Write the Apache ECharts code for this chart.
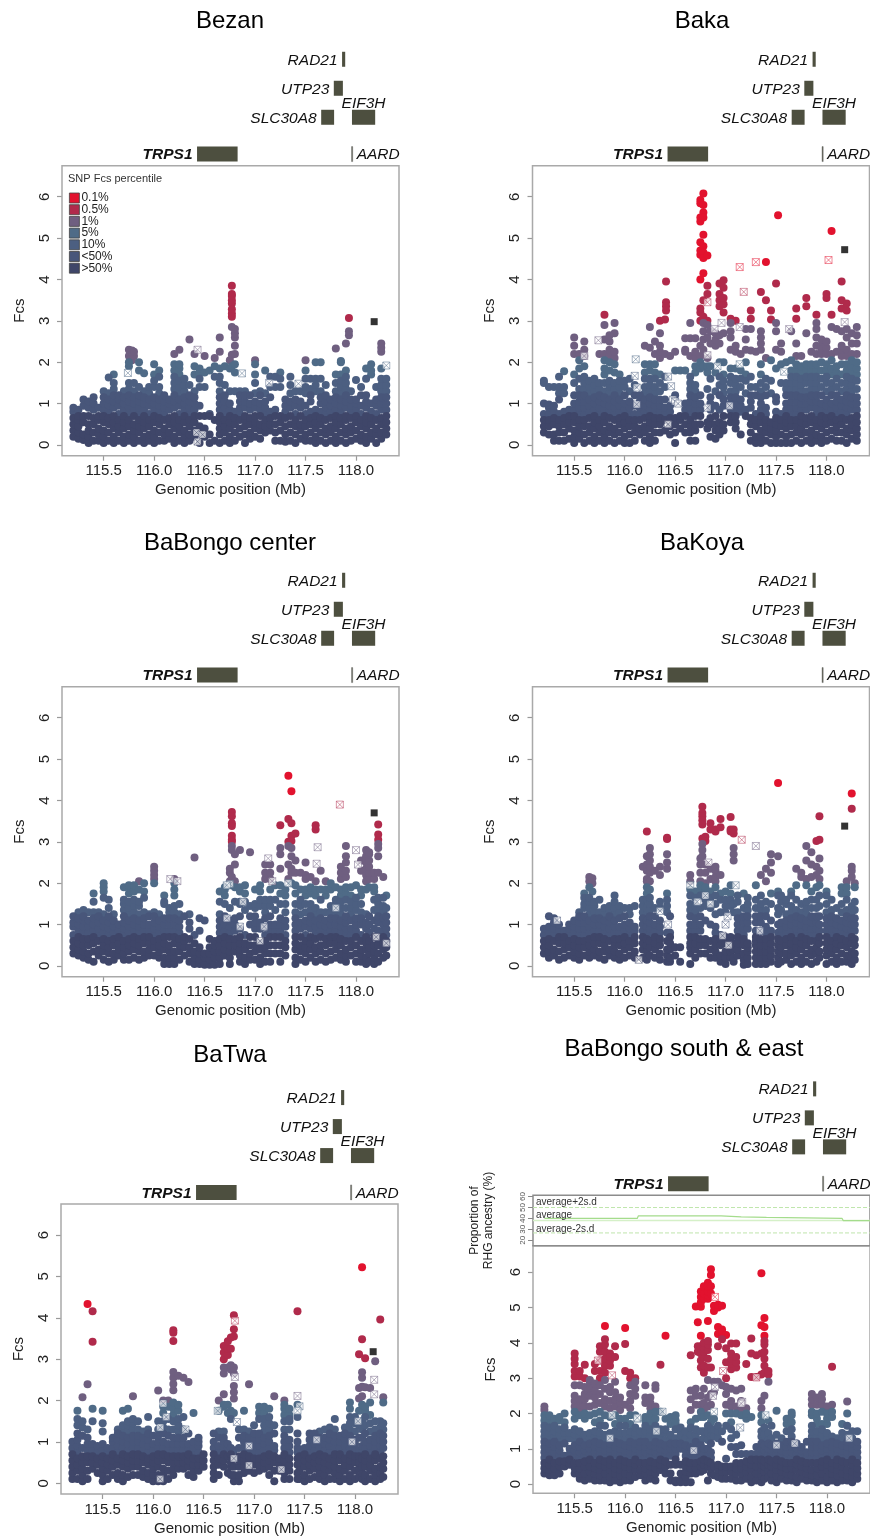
<!DOCTYPE html>
<html><head><meta charset="utf-8">
<style>html,body{margin:0;padding:0;background:#fff}#c{width:870px;height:1538px}</style>
<script src="https://cdn.jsdelivr.net/npm/echarts@6/dist/echarts.min.js"></script>
</head><body><div id="c"></div>
<script>
// Each row: genomic position (Mb), then the Fcs values read in that column.
const bezanCols=[
[115.2,.2,.35,.5,.65,.8,.9],[115.25,.15,.3,.45,.6,.7,.85],[115.3,.12,.25,.55,.7,.95,1.1],[115.35,.05,.2,.35,.5,.7,.9,1.05],[115.4,.1,.3,.5,.65,.85,1,1.15],[115.45,.1,.25,.4,.6,.7,.9],
[115.5,.05,.2,.35,.55,.7,.85,1,1.15,1.3],[115.55,.1,.3,.5,.65,.8,.95,1.1,1.25,1.63],[115.6,.05,.2,.4,.55,.7,.9,1.05,1.2,1.35,1.5,1.7],[115.65,.1,.3,.45,.6,.75,.95,1.1,1.2],[115.7,.05,.2,.4,.55,.7,.85,1,1.15,1.3],
[115.75,.1,.25,.45,.6,.75,.9,1.05,1.2,1.35,1.5,1.9,2,2.15,2.3],[115.78,2.28,2.15,2.05],[115.8,.05,.2,.35,.5,.7,.85,1,1.15,1.3,1.5,2.15,2.25],[115.85,.1,.3,.45,.6,.75,.9,1.05,1.2,1.4,2,1.8],[115.9,.05,.2,.4,.55,.7,.85,1,1.15,1.3,1.73],[115.95,.1,.25,.45,.6,.75,.95,1.1,1.25,1.4],
[116,.05,.2,.35,.55,.7,.85,1,1.15,1.4,1.55,1.7,1.95],[116.05,.1,.3,.5,.65,.8,.95,1.1,1.25,1.4,1.65,1.8],[116.1,.1,.25,.4,.6,.75,.9,1.05,1.2],[116.15,.15,.3,.5,.65,.85,1,1.1],[116.2,.05,.2,.4,.55,.7,.9,1.05,1.2,1.35,1.5,1.65,1.8,1.95,2.2],[116.25,.1,.3,.45,.6,.75,.95,1.1,1.25,1.4,1.55,1.7,1.85,1.95,2.3],[116.3,.05,.2,.35,.55,.7,.85,1,1.15,1.3,1.45,1.6],[116.35,.1,.25,.45,.6,.75,.9,1.05,1.2,1.45,2.55],[116.4,.2,.35,.55,.7,.85,1,1.15,1.3,1.7,1.9,2.2],[116.45,.05,.3,.45,.7,.95,1.4,1.6,1.75,1.85],[116.5,.2,.4,.7,1.4,1.75,2.15],[116.55,.05,.25,.7,.75,1.8],[116.6,.1,.6,1.65,1.9,2.1],
[116.65,.05,.25,.4,.55,.7,.85,1,1.15,1.3,1.5,1.65,1.85,2.25,2.6],[116.7,.1,.3,.45,.6,.75,.9,1.05,1.2,1.45,1.9],[116.75,.05,.2,.4,.55,.7,.85,1,1.3,1.85,2.05],
[116.77,3.85,3.65,3.6,3.5,3.42,3.28,3.18,3.1,2.85,2.18,1.9],[116.8,.1,.3,.5,.65,.8,1.3,1.75,1.95,2.2,2.4,2.6,2.7,2.8],[116.85,.2,.4,.6,.75,.9,1.05,1.2,1.3],[116.9,.05,.25,.45,.6,.7,.9,1.05,1.2,1.3],[116.95,.15,.3,.5,.65,.85,1,1.2],[117,.2,.4,.55,.7,.9,1.05,1.25,1.5,1.7,1.95,2.05],[117.05,.15,.35,.5,.7,.85,1,1.2,1.3],[117.1,.3,.45,.6,.75,.9,1.05,1.25,1.8],[117.15,.35,.5,.65,.8,1.15,1.4,1.65],[117.2,.1,.3,.5,.7,.85,1.4,1.65],[117.25,.1,.35,.55,.7,1.4,1.75,1.6],
[117.3,.08,.25,.45,.65,.8,.95,1.1],[117.35,.1,.3,.5,.7,.9,1.05,1.25,1.45,1.65],[117.4,.05,.25,.45,.6,.75,.95,1.1,1.3],[117.45,.15,.35,.5,.7,.9,1.05,1.3],[117.5,.1,.25,.45,.6,.75,.95,1.25,1.4,1.6,1.8,2.05],[117.55,.1,.3,.5,.65,.8,1.05,1.2,1.35,1.6],[117.6,.05,.2,.4,.55,.7,.85,1.3,1.45,1.6,2],[117.65,.1,.3,.5,.65,.8,1,1.15,1.3,1.6,2],[117.7,.05,.25,.4,.6,.75,.9,1.05,1.2,1.45],[117.75,.1,.3,.45,.65,.8,.95,1.1],[117.8,.05,.2,.4,.55,.7,.85,1,1.15,1.3,1.5,1.7,2.33],[117.85,.1,.3,.5,.65,.8,.95,1.1,1.25,1.4,1.55,1.7,2,2.03],[117.9,.05,.25,.4,.6,.7,.9,1.05,1.2,1.35,1.5,1.65,1.8,2.45],[117.93,2.65,2.75,3.07],[117.95,.1,.3,.45,.65,.8,.95,1.1,1.3],[118,.15,.35,.55,.7,.85,1,1.1,1.57],[118.05,.1,.25,.45,.6,.75,.95,1.2,1.4],[118.1,.05,.2,.4,.55,.7,.9,1.05,1.2,1.6,1.85],[118.15,.15,.3,.5,.65,.8,1,1.7,1.8,1.95],[118.2,.05,.25,.4,.6,.75,.95,1.1,1.4],[118.25,.15,.3,.5,.65,.85,1,1.15,1.3,1.45,1.6,1.85,2.25,2.35,2.45],[118.3,.25,.4,.55,.7,.85,1,1.15,1.3,1.45,1.6]];
const bezanHollowX=[115.74,116.43,116.43,116.87,117.14,117.43,118.3,116.42,116.48];
const bezanHollowY=[1.74,2.3,.08,1.73,1.5,1.48,1.92,.3,.25];
const bezanBlackY=[2.98];
const bezanBands=[.75,1.25,1.7,2.05,3.0,4.3];

const bakaCols=[
[115.2,.3,.45,.6,.75,1,1.5,1.55],[115.25,.25,.45,.6,.75,.9,.98,1.4],[115.3,.1,.25,.5,.65,.8,.95,1.4],[115.35,.1,.3,.45,.6,.75,1.1,1.25,1.4,1.65],[115.4,.1,.3,.5,.65,.8,1.25,1.4,1.78],[115.45,.15,.4,.55,.7,.85],[115.5,.05,.2,.35,.55,.7,.85,1,1.2,1.5,1.7,2.2,2.4,2.6],[115.55,.15,.3,.45,.6,.75,.9,1.05,1.2,1.35,1.6,1.85,2.05,2.2],
[115.6,.05,.25,.45,.6,.75,.9,1.05,1.2,1.35,1.5,1.65,1.9,2.15,2.3,2.5],[115.65,.1,.3,.45,.65,.8,.95,1.1,1.25,1.4,1.55],[115.7,.05,.2,.4,.55,.7,.85,1,1.15,1.3,1.45,1.6],[115.75,.1,.3,.45,.6,.75,.9,1.05,1.2,1.35,1.5,2.2],[115.8,.05,.2,.35,.55,.7,.85,1,1.15,1.3,1.5,1.7,1.85,2.05,2.2,2.55,2.9,3.15],[115.85,.1,.3,.45,.65,.8,.95,1.1,1.25,1.4,1.55,1.8,2,2.15,2.3,2.5,2.65],[115.9,.05,.25,.4,.6,.75,.9,1.05,1.2,1.35,1.5,1.75,1.95,2.1,2.25,2.7,2.95],[115.95,.1,.3,.5,.65,.8,.95,1.1,1.25,1.4,1.55,1.7],[116,.05,.2,.4,.55,.7,.85,1,1.2,1.4,1.55],[116.05,.05,.25,.45,.6,.75,.9,1.05,1.3,1.6],
[116.1,.1,.3,.45,.6,.75,.95,1.2,1.45],[116.15,.25,.4,.6,.75,.9,1.05,1.2],[116.2,.1,.3,.45,.65,.8,.95,1.1,1.25,1.4,1.6,1.75,1.95,2.4],[116.25,.05,.2,.4,.55,.7,.85,1,1.15,1.3,1.45,1.6,1.8,1.95,2.35,2.85],[116.3,.1,.3,.5,.65,.8,.95,1.1,1.25,1.4,1.6,1.75,1.95,2.2,2.5],[116.35,.3,.5,.65,.8,.95,1.1,1.3,1.5,1.7,2.1,2.25,2.4,2.7,3],[116.4,.35,.6,.75,.9,1.1,1.4,1.65,2.2,3.03],[116.41,3.95,3.45,3.35,3.25],[116.45,.25,.45,.65,.8,.95,2.15],[116.5,.05,.3,.5,.65,1.2,1.8,2.25],[116.55,.4,.6,.7,1.8],[116.6,.3,.5,.7,.85,1,2.3,2.58,2.25,1.8],[116.65,.1,.3,.45,.6,.75,.9,1.05,1.2,1.35,1.5,1.65,2.15,2.58,2.95],[116.7,.1,.35,.5,.7,.85,1,1.15,1.3,1.45,1.75,1.9,2.1,2.25,2.58],
[116.75,.5,.7,.85,1,1.2,1.85,2,2.15,2.4,3,3.2,3.3,4.0,4.6,4.7,4.9,5.4,5.5,5.92,5.84],[116.78,6.08,5.8,5.62,5.5,5.08,4.8,4.65,4.52,4.15,3.5,3.1,2.95,2.75,2.55,2.3,1.9],[116.82,.4,.55,1.35,1.75,1.9,2.1,2.6,2.9,3.0,3.65,3.85,4.58],[116.85,.2,.5,.65,.85,1,1.15,1.6,1.9,2.45,2.75],[116.9,.15,.35,.5,.7,.95,1.3,1.75,2.4,2.55,2.7],[116.94,.25,.4,.55,.85,1.2,1.45,1.65,2,2.45,2.65,3.35,3.5,3.65,3.9],[116.98,.35,.5,.7,.95,1.1,1.25,1.4,1.55,1.7,2,2.7,3.2,3.4,3.55,3.8,3.98],[117.05,.55,.7,.85,1,1.15,1.3,1.5,1.65,1.85,2.3,2.6,2.75,3.05,2.95],[117.1,.4,.55,.7,.85,1,1.15,1.3,1.45,1.6,1.85,2.25,2.4,3.0],[117.15,.25,.8,.95,1.1,1.4,1.6,1.8,2.2],[117.2,.7,.85,1.25,1.55,1.7,2,2.3,2.55,2.8],
[117.25,.1,.3,.5,.65,.9,1.05,1.2,1.4,1.65,2.28,2.8,3.05,3.25],[117.3,.05,.2,.45,.6,.75,1.2,1.4,2.25],[117.35,.05,.2,.35,.55,.7,.85,1,1.15,1.3,1.5,1.7,1.95,2.3,2.45,2.6,2.75,3.7],[117.4,.1,.3,.45,.6,.75,.9,1.2,1.4,1.6,2.1,3.5],[117.45,.05,.25,.4,.55,1.25,1.55,2.05,3.03,3.25],[117.5,.05,.2,.35,.5,.65,.8,1.05,1.15,1.85,2.3,2.75,2.95,3.9],[117.55,.05,.25,.45,.6,.75,1.5,1.95,2.25,2.45],[117.6,.05,.2,.4,.55,.7,.85,1,1.2,1.35,1.5,2],[117.65,.05,.25,.45,.6,.75,.9,1.05,1.2,1.35,1.5,1.65,1.8,2.05,2.75],[117.7,.1,.3,.45,.6,.75,.9,1.05,1.2,1.35,1.5,1.65,1.8,1.95,2.15,2.45,3.05,3.3],[117.75,.05,.25,.4,.55,.7,.85,1,1.15,1.3,1.45,1.6,1.75,1.9,2.15],[117.8,.1,.3,.5,.65,.85,1,1.15,1.3,1.5,1.65,1.8,1.95,2.7,3.35,3.55],[117.85,.05,.2,.35,.55,.7,.9,1.05,1.2,1.35,1.5,1.65,1.8,1.95,2.25],[117.9,.1,.25,.45,.6,.75,.9,1.05,1.2,1.35,1.5,1.65,1.8,1.95,2.2,2.4,2.6,2.8,2.95,3.15],
[117.95,.05,.2,.4,.55,.7,.85,1,1.2,1.4,1.6,1.8,2,2.2,2.4,2.55,2.3],[118,.1,.3,.5,.65,.8,.95,1.1,1.3,1.5,1.65,1.8,1.95,2.2,2.35,2.5,3.55,3.65],[118.05,.15,.35,.55,.7,.85,1,1.2,1.35,1.5,1.7,1.85,2.05,2.2,2.85,3.15,5.17],[118.1,.1,.3,.45,.6,.75,.9,1.05,1.2,1.4,1.6,1.75,1.9,2.25,2.8],[118.15,.1,.3,.5,.65,.8,.95,1.1,1.3,1.5,1.7,1.95,2.15,2.3,2.4,2.75,3.3,3.5,3.95],[118.2,.05,.25,.4,.6,.75,.9,1.05,1.2,1.35,1.5,1.65,1.8,1.95,2.15,2.3,2.6,2.8,3.25,3.42],[118.25,.15,.35,.5,.65,.85,1,1.15,1.3,1.45,1.6,1.75,1.9,2.05,2.2,2.45,2.7],[118.3,.1,.25,.4,.55,.7,.85,1,1.15,1.35,1.55,1.7,1.85,2,2.2,2.45,2.65,2.85],
[117.52,5.55],[117.4,4.42]];
const bakaHollowX=[115.74,115.6,116.11,116.1,116.12,116.43,116.46,116.48,116.5,116.53,116.43,116.82,116.82,116.89,116.96,116.92,116.82,117.04,117.14,117.14,117.18,117.3,117.63,117.58,118.02,118.18,116.12,117.14];
const bakaHollowY=[2.53,2.15,2.07,1.67,1.39,1.65,1.42,1.1,1.05,1.0,.5,3.45,2.17,2.8,2.95,1.9,.9,.95,4.3,2.85,3.7,4.42,2.8,1.77,4.47,2.97,.98,1.95];
const bakaBlackY=[4.72];
const bakaBands=[.75,1.25,1.7,2.1,3.0,4.0];

const centerCols=[
[115.2,.3,.45,.6,.75,.95,1.05,1.2],[115.25,.25,.4,.55,.7,.85,1,1.15,1.3],[115.3,.2,.35,.5,.65,.8,.95,1.1,1.2,1.35],[115.35,.15,.3,.5,.65,.8,.95,1.1,1.3],[115.4,.1,.35,.55,.7,.85,1,1.15,1.3,1.55,1.75],[115.45,.25,.4,.6,.75,.9,1.05,1.2,1.3],[115.5,.15,.35,.5,.65,.8,.95,1.1,1.25,1.65,1.8,1.9,2],[115.55,.1,.3,.45,.6,.75,.9,1.05,1.2,1.4,1.6],[115.6,.15,.3,.5,.65,.8,.95,1.1,1.25],[115.65,.25,.4,.55,.7,.85,1],[115.7,.15,.3,.45,.6,.75,.9,1.05,1.2,1.35,1.5,1.6,1.9],[115.75,.15,.35,.5,.65,.8,.95,1.1,1.25,1.4,1.55,1.75,1.9,1.95],[115.8,.2,.4,.55,.7,.85,1,1.15,1.3,1.45,1.6,1.8,1.95],[115.85,.15,.35,.5,.65,.8,.95,1.1,1.25,1.45,1.55,1.85,2.05],[115.9,.2,.35,.55,.7,.85,1,1.15,1.3,1.65,1.8,2],[115.95,.25,.4,.55,.7,.85,1,1.2,1.25],
[116,.25,.45,.6,.75,.9,1.05,1.2,1.3,2,2.1,2.2,2.3,2.4],[116.05,.2,.35,.5,.65,.8,.95,1.1,1.25],[116.1,.05,.2,.4,.55,.7,.85,1,1.15,1.5,1.55,1.7],[116.15,.05,.2,.35,.5,.7,.85,1,1.15,1.3,1.4],[116.2,.05,.2,.35,.55,.7,.85,1,1.15,1.3,1.45,1.7,1.85,2,2.1],[116.25,.15,.35,.5,.65,.8,.95,1.1,1.25,1.5],[116.3,.25,.45,.6,.7,1.2],[116.35,.1,.3,.45,.65,.9,1.05,1.25],[116.4,.05,.2,.35,.55,.75,2.62],[116.45,.05,.15,.3,.45,.85,1.15],[116.5,.03,.2,.3,1.1],[116.55,.03,.15,.3,.45,.65],[116.6,.03,.2,.35,.5,.6],[116.65,.05,.2,.35,.5,.65,.8,.95,1.1,1.25,1.55,1.8],[116.7,.25,.4,.55,.7,.85,1,1.2,1.5,1.7,1.85,1.9],[116.75,.05,.2,.35,.5,.65,.8,.95,1.1,1.4,1.95,2.25,2.35,2.05],
[116.77,3.72,3.62,3.45,3.38,3.15,3.05,3,2.9,2.8,2.15],[116.8,.35,.5,.65,.85,1,1.15,1.55,1.9,2.05,2.45,2.7],[116.85,.1,.25,.4,.55,.7,.9,1.2,1.5,1.55,1.8,1.9,2.8],[116.9,.05,.2,.4,.55,.75,1.35,1.55,1.75,1.95],[116.95,.15,.3,.5,.7,1,1.2,1.45,2.75],[117,.15,.35,.5,.7,.9,1.05,1.2,1.4,1.5,1.85],[117.05,.05,.2,.4,.55,.9,1.05,1.45,1.6,1.8,1.95],[117.1,.1,.3,.45,.6,.75,.95,1.15,1.3,1.45,1.6,2.1,2.25,2.45],[117.15,.1,.3,.5,.7,.85,1,1.2,1.45,1.6,1.85,2.1,2.25,2.45],[117.2,.3,.5,.7,.85,1,1.35,1.6,1.95],[117.25,.1,.3,.5,.7,.85,1,1.15,1.5,1.75,1.95,2.35,2.7,2.85,3.4],[117.3,.25,.45,.6,.75,.95,1.1,1.3,1.5,1.7,1.85],[117.33,4.6,3.55,3.0,2.9,2.45,2.1],[117.36,4.22,3.45,3.15,3.02,2.85,2.65,2.35,2.25,2],[117.4,.05,.2,.4,.55,.7,.85,1,1.15,1.3,1.5,1.75,1.95,2.25,2.55,3.2],[117.45,.15,.35,.5,.7,.9,1.05,1.25,1.45,1.6,1.85,2.25],[117.5,.1,.3,.45,.6,.75,.95,1.1,1.3,1.5,1.7,1.85,2.2,2.1,2.5],[117.55,.2,.4,.55,.7,.9,1.05,1.2,1.35,1.5,1.75,1.9,2.15],[117.6,.1,.3,.45,.65,.8,.95,1.1,1.25,1.4,1.7,1.85,2.05,3.3,3.4],[117.65,.15,.35,.5,.7,.85,1,1.15,1.3,1.6,1.85,2.3],[117.7,.1,.3,.5,.65,.8,.95,1.1,1.3,1.7,1.85,2.05],[117.75,.15,.35,.55,.7,.85,1,1.15,1.3,1.45,1.85,2.0],[117.8,.2,.4,.55,.7,.85,1,1.15,1.3,1.5,1.6,1.9],[117.85,.15,.3,.5,.65,.8,.95,1.1,1.25,1.4,1.55,1.7,1.85,2.1,2.25,2.4],[117.9,.1,.25,.4,.6,.75,.9,1.05,1.2,1.4,1.6,1.75,1.9,2.15,2.3,2.5,2.65,2.9],[117.95,.25,.45,.6,.75,.9,1.1,1.25,1.4,1.55,1.7,1.9],[118,.1,.3,.5,.7,.85,1,1.15,1.35,1.5,1.65,1.95],[118.05,.1,.25,.4,.6,.75,1,1.15,1.3,1.5,1.7,1.85,2.3,2.55],[118.1,.05,.2,.4,.55,.7,.9,1.05,1.25,1.85,2.05,2.2,2.35,2.5,2.65,2.8],[118.13,.1,.3,.45,.6,.8,1,1.2,1.9,2.1,2.25,2.4,2.55,2.7,2.75],[118.18,.05,.2,.35,.5,.7,.9,1.1,1.35,1.6,1.8,1.9,2.1,2.25],[118.22,.1,.3,.5,.65,.85,1.05,1.2,1.35,1.5,1.65,2.25,2.65,2.85,2.95,3.05,3.18,3.42],[118.27,.2,.4,.55,.7,.85,1,1.15,1.3,1.45,1.65,2.15],[118.3,.25,.45,.6,.75,.9,1.05,1.2,1.4,1.7]];
const centerHollowX=[116.16,116.23,116.88,116.75,116.72,117.13,117.17,117.33,117.84,117.62,117.61,118.0,117.8,118.02,118.3,116.85,117.05,117.09,116.72,118.2];
const centerHollowY=[2.1,2.05,1.55,1.98,1.95,2.6,2.05,2.0,3.9,2.87,2.47,2.8,1.4,2.45,.55,.95,.6,.95,1.15,.7];
const centerBlackY=[3.7];
const centerBands=[.75,1.25,1.7,2.05,3.0,4.0];

const koyaCols=[
[115.2,.3,.45,.6,.75,.9],[115.25,.2,.35,.5,.65,.8,.95,1.2],[115.3,.25,.4,.6,.75,.9,1.05,1.15],[115.35,.15,.35,.55,.7,.85,1],[115.4,.2,.4,.55,.7,.85],[115.45,.25,.45,.6,.75,.9,1.0],[115.5,.2,.35,.5,.65,.8,.95,1.1],[115.55,.15,.3,.45,.6,.75,.9,1.05,1.2,1.3],[115.6,.25,.45,.6,.75,.9,1.05,1.2,1.4,1.5,1.65,1.75],[115.65,.2,.35,.5,.65,.8,.95,1.1,1.25,1.4,1.55,1.65,1.9,2.05,2.15],[115.68,2.0,1.8,2.12],[115.7,.25,.4,.55,.7,.85,1,1.15,1.3,1.45,1.55],[115.75,.2,.35,.55,.7,.85,1,1.15,1.3,1.6],[115.8,.15,.35,.5,.65,.8,.95,1.1,1.25,1.4],[115.85,.25,.4,.6,.75,.9,1.05,1.2,1.35,1.45],[115.9,.2,.35,.5,.65,.8,.95,1.1,1.25,1.4,1.55,1.7],[115.95,.15,.3,.5,.65,.8,.95,1.15,1.3,1.45],[116,.2,.4,.55,.7,.85,1,1.2,1.4],[116.05,.25,.45,.6,.75,.9,1.05,1.25,1.4],[116.1,.2,.35,.55,.7,.85,.95,1.45],
[116.18,.2,.4,.55,.7,.85,1,1.15,1.3,1.45,1.6,2.4],[116.22,.15,.35,.5,.65,.8,.95,1.1,1.25,1.4,1.6,1.75,1.9,2.05,2.1,2.3,2.45,2.65,3.25],[116.25,.25,.45,.6,.75,.9,1.05,1.2,1.35,1.5,1.65,1.85,2.05,2.25,2.4,2.55,2.7,2.85],[116.3,.2,.4,.55,.7,.85,1,1.2,1.4,2.3],[116.35,.15,.3,.5,.65,.8,.95,1.1,1.4,1.55,2.2,2.4],[116.42,.1,.25,.4,.6,.8,1.3,1.45,1.6,1.75,2.35,2.5,2.7,3.07,3.1],[116.45,.1,.2,.4,.55,.7,.8,1.2],[116.5,.25,.45],[116.55,.1,.45],[116.65,.05,.3,.45,.55,.7,.85,1.0,1.2,1.35,1.5,1.7,1.85,2.2,2.05],[116.7,.2,.4,.55,.7,.85,1,1.15,1.3,1.45,1.65,1.8],[116.75,.3,.5,.65,.85,1,1.2,1.4,1.7,1.85,1.95,2.05,2.25,2.45,2.6],[116.77,3.85,3.7,3.62,3.52,3.42,3.08,2.95,2.8,2.65],[116.8,.3,.5,.65,1.1,1.45,1.6,1.8,1.9,2,2.25,2.45,3.12,3.02],[116.85,.2,.4,.6,1.0,1.4,1.65,1.8,2.1,2.35,3.3,3.45],[116.9,.2,.35,.5,.65,.8,.95,1.25,1.5,1.7,1.9,2.05,2.15,2.3,2.4,3.3,3.25],[116.95,.1,.25,.5,.65,.75,1.3,1.6,1.75,2.2,3.55,3.35],[117,.05,.2,.35,.55,.7,1.3,1.45,1.6,1.8],[117.05,.2,.35,.5,.65,.7,1.45,1.6,1.75,1.95,3.3,3.6,3.25],[117.08,.1,.2,.4,.55,1.3,1.5,2.55,2.7,2.85,3.2,3.3],[117.12,.25,.4,.55,.7,.85,1.0,1.15,1.3,1.55,1.7],
[117.18,.03,.15,.3,.5,.65,.75,.9,1.05,1.2,1.4,1.75],[117.22,.05,.2,.35,.45,.55,.9,1.05,1.2,1.35,1.5,1.65],[117.3,.05,.2,.35,.5,.6,.7,.85,1.05,1.2,1.4,1.6,1.95],[117.35,.05,.2,.35,.5,.65,.85,1.05,1.2,1.35,1.5,1.7,2.2],[117.4,.05,.2,.35,.5,.65,.8,.95,1.2,1.35,1.55,2.05,2.35],[117.45,.1,.25,.4,.55,.7,.85,1.1,1.5,1.75,2.25,2.5,2.7],[117.52,.05,.2,.35,.5,.65,.8,1,1.25,1.4,1.7,1.8,2.65,4.42],[117.55,.1,.3,.45,.6,.75,.9,1.05,1.35,1.55,1.7],[117.6,.15,.3,.5,.65,.8,.95,1.1,1.25,1.5,1.6],[117.65,.05,.25,.4,.55,.7,.85,1,1.15,1.3,1.45,1.7,1.8],[117.7,.1,.3,.45,.6,.75,.9,1.05,1.2,1.35,1.6,1.95,2.35],[117.75,.05,.2,.4,.55,.7,.85,1,1.15,1.3,1.5,2.15,2.25],[117.8,.1,.3,.5,.65,.8,.95,1.1,1.25,1.4,1.55,1.95,2.1,2.55,2.9],[117.85,.05,.25,.4,.6,.75,.9,1.05,1.2,1.4,1.6,1.8,2.15,2.45,2.75],[117.9,.1,.3,.45,.6,.75,.9,1.05,1.2,1.4,1.6,1.9,2.2,2.4,3.02],[117.93,.2,.35,.55,.7,.85,1,1.2,1.45,1.7,1.95,2.1,2.3,2.6,3.05,3.62],[118,.05,.25,.4,.55,.7,.85,1,1.15,1.3,1.5,1.7,1.8],[118.05,.1,.3,.45,.6,.75,.9,1.05,1.2,1.35,1.6],[118.1,.05,.2,.4,.55,.7,.85,1,1.15,1.4],[118.15,.1,.3,.5,.65,.8,.95,1.1,1.3,1.5,1.9,1.75],[118.2,.1,.25,.45,.6,.75,.9,1.05,1.2,1.35,1.6,1.75,1.9,2.05],[118.25,.05,.2,.35,.55,.7,.85,1,1.15,1.3,1.45,2.15,2.3,2.4,3.8,4.17],[118.28,.15,.3,.5,.65,.85,1,1.15,1.35,1.55,1.9,2.0]];
const koyaHollowX=[115.33,116.35,116.43,116.14,116.65,116.8,116.83,116.97,117.03,117.1,117.3,117.16,117.34,117.0,116.72,117.02,116.85];
const koyaHollowY=[1.1,1.33,1.0,.15,1.95,1.7,2.5,.73,.5,1.95,2.9,3.05,.85,1.0,1.55,1.2,1.5];
const koyaBlackY=[3.38];
const koyaBands=[.75,1.25,1.75,2.0,3.0,4.0];

const twaCols=[
[115.2,.1,.25,.4,.55,.7,.85,1.0],[115.25,.1,.3,.45,.6,.75,.9,1.05,1.2,1.4,1.55,1.75],[115.3,.05,.2,.35,.5,.65,.85,1.15,1.35,1.5,2.08],[115.35,.1,.3,.5,.65,.8,.95,1.1,1.3,2.39,4.33],[115.4,.35,.5,.65,.8,.95,1.5,1.8,3.42,4.16],[115.45,.25,.45,.6,.75,.9],[115.5,.05,.2,.35,.5,.65,.8,.95,1.25,1.45,1.75],[115.55,.1,.3,.45,.6,.75,.85],[115.6,.2,.4,.55,.7,.85,1.0,1.1],[115.65,.1,.25,.45,.6,.75,.9,1.05,1.2,1.3],[115.7,.05,.2,.4,.55,.7,.85,1.0,1.15,1.3,1.4,1.75],[115.75,.15,.35,.5,.65,.8,.95,1.1,1.25,1.4,1.5,1.8],[115.8,.2,.4,.55,.7,.85,1,1.15,1.3,1.45,1.55,2.1],[115.85,.2,.4,.55,.7,.85,1,1.15,1.3,1.5],[115.9,.15,.3,.5,.65,.8,.95,1.1,1.25],[115.95,.1,.25,.45,.6,.75,.9,1.05,1.2,1.3,1.6],[116,.05,.2,.35,.5,.65,.8,.95,1.15],[116.05,.05,.2,.4,.55,.7,.85,1,1.15,1.3,1.5,2.24],[116.1,.05,.2,.35,.55,.7,.85,1,1.2,1.35,1.5,1.7,1.85,2.0],[116.15,.1,.3,.5,.65,.8,.95,1.15,1.3,1.55,1.85,2.0],
[116.2,.2,.35,.5,.65,.8,.95,1.1,1.3,1.5,1.65,1.8,1.95,2.25,2.4,2.55,2.69,3.44,3.64,3.7],[116.25,.35,.5,.65,.8,.95,1.1,1.25,1.4,1.55,1.75,1.9,2.6],[116.3,.35,.5,.65,.8,.95,1.1,1.3,1.6,2.55],[116.35,.2,.4,.55,.7,.85,.95,1.2,2.45],[116.4,.15,.3,.45,.6,.75,.85,1.0,1.7],[116.45,.3,.45,.6,.75,.9,1.0,1.1],[116.5,.4,.55,.7],[116.6,.1,.25,.4,.55,.7,.85,1,1.2],[116.65,.2,.45,.6,.75,.9,1.1,1.25,1.75,2.0],[116.7,.4,.55,.7,.85,1,1.1,1.25,1.85,1.9,2.15,2.65,2.8,3,3.16,3.32],[116.74,.25,.65,.85,.95,1.7,1.9,2.8,3.1,3.25,3.43],[116.77,.2,.4,.5,.7,.85,1.55,1.75,2.75,2.85,3.25,3.52],[116.8,.05,.2,.4,.6,.8,1.7,2.05,2.2,2.35,2.65,2.8,3.55,3.72,4.06],[116.85,.05,.2,.4,.55,.65,.85,1.1,1.3],[116.9,.25,.4,.55,.7,.85,1,1.15,1.3,1.75],[116.95,.3,.5,.65,.8,.95,1.1,1.25,2.39],[117,.25,.45,.6,.75,.9,1.05,1.2,1.4],[117.05,.3,.45,.6,.75,.9,1.05,1.2,1.55,1.7,1.85],[117.1,.35,.5,.65,.8,.95,1.1,1.25,1.4,1.55,1.7,1.85],[117.15,.2,.4,.55,.7,.85,1,1.15,1.3,1.45,1.6,1.8],[117.2,.05,.3,.5,.65,.8,.9,1.2,1.4,2.1],[117.25,.3,.45,.6],[117.3,.1,.25,.4,.55,.7,.85,1,1.15,1.3,1.5,1.65,1.8,1.9,2],[117.35,.1,.3,.45,.6,.75,.9,1.05,1.3,1.5,1.65,1.8,1.55],[117.43,.1,.25,.45,.6,.75,.85,1.0,1.2,1.6,1.9,4.16],[117.45,.1,.3,.5,.65,.8],
[117.5,.05,.2,.4,.55,.7,.85],[117.55,.1,.3,.45,.6,.75,.9,1.05,1.2],[117.6,.15,.35,.5,.65,.8,.95,1.1,1.2],[117.65,.1,.25,.4,.55,.7,.85,1,1.1,1.25],[117.7,.05,.2,.35,.5,.65,.8,.95,1.1,1.3],[117.75,.1,.3,.45,.6,.75,.9,1.05,1.2,1.35],[117.8,.1,.25,.4,.55,.7,.85,1,1.15,1.3,1.55],[117.85,.05,.2,.35,.55,.7,.85,1,1.15],[117.9,.1,.3,.45,.6,.75,.9,1.05,1.2,1.35],[117.95,.05,.2,.4,.55,.7,.85,1,1.15,1.3,1.45,1.6,1.8,1.95],[118,.1,.3,.5,.65,.8,.95,1.05,1.25,1.45,1.6],[118.04,.15,.35,.5,.65,.8,1.1,1.4,1.75,2.05,2.3,3.12],[118.07,.1,.25,.4,.6,.75,.9,1.1,1.3,1.5,1.9,2.1,2.33,2.55,2.68,3.48,5.22],[118.1,.05,.2,.4,.55,.7,.85,1,1.2,1.4,1.6,1.75,1.85,2.32,3.02],[118.15,.1,.3,.45,.6,.75,.9,1.05,1.25,1.45,1.65,1.95,2.3],[118.2,.05,.2,.35,.55,.7,.85,1,1.15,1.3,1.5,2.95],[118.25,.1,.25,.4,.6,.75,.9,1.05,1.2,1.35,1.5,3.96],[118.28,.15,.35,.5,.65,.85,1,1.15,1.3,1.45,1.95,2.08]];
const twaHollowX=[116.1,116.07,116.13,116.81,116.81,116.83,117.43,117.45,117.43,116.64,116.8,116.32,116.95,117.27,117.62,118.03,118.19,118.19,117.97,116.95,116.07];
const twaHollowY=[1.93,1.35,1.6,3.93,2.57,1.48,2.11,1.86,1.75,1.75,.6,1.3,.43,.33,1.05,1.5,2.5,2.15,1.0,.9,.1];
const twaBlackY=[3.18];
const twaBands=[.72,1.25,1.65,2.0,3.0,4.2];

const southCols=[
[115.2,.3,.45,.6,.75,.9,1.05,1.2,1.35,1.5,1.65,1.8,1.95,2.1,2.2],[115.25,.25,.4,.55,.7,.85,1,1.15,1.3,1.45,1.6,1.75,1.95],[115.3,.25,.45,.6,.75,.9,1.05,1.2,1.35,1.5,1.65,1.85],[115.35,.3,.5,.65,.8,.95,1.1,1.25,1.4,1.55,1.8,1.9],[115.4,.5,.65,.8,1.15,1.3,1.45,1.6,1.75,2],[115.45,.55,.7,.85,1.0,1.3,1.45],[115.5,.3,.45,.6,.8,.95,1.1,1.25,1.4,1.55,1.85,2.05,2.2,2.35,2.5,2.8,3.05,3.2,3.4,3.55,3.7],[115.55,.15,.3,.45,.6,.75,.9,1.05,1.2,1.35,1.5,1.95,2.1,2.25,2.4,2.8,3.05,3.2],[115.6,.1,.3,.5,.65,.8,.95,1.1,1.25,1.4,1.85,2,2.2,2.4,2.55,2.75,3,3.38],[115.65,.15,.35,.5,.7,.85,1,1.15,1.3,1.45,1.95,2.2,2.5,2.7,2.9,2.95],[115.7,.1,.3,.45,.6,.75,.9,1.05,1.2,1.35,1.5,1.75,2,2.25,2.45,2.65,2.85,3.2,3.4],[115.75,.1,.25,.4,.55,.7,.85,1,1.15,1.3,1.45,1.65,1.8,2.05,2.3,2.55,2.8,3.0,3.2,3.5,3.75,3.9],[115.8,.1,.3,.5,.65,.8,.95,1.1,1.25,1.4,1.65,1.95,2.2,2.4,2.7,2.95,3.15,3.35,3.55,3.75,3.95,4.1,4.48],[115.85,.05,.2,.4,.55,.7,.85,1,1.15,1.3,1.45,1.9,2.15,2.35,2.6,2.75,3.35,3.5,3.7,3.6],[115.9,.1,.3,.45,.6,.75,.9,1.05,1.2,1.35,1.5,1.7,1.95,2.2,2.4,2.6,2.9,3.6,3.9],[115.95,.05,.25,.4,.55,.7,.85,1,1.15,1.3,1.45,1.65,1.85,2.1,2.3,2.45],[116,.1,.3,.5,.65,.8,.95,1.1,1.25,1.45,1.65,1.85,2.25,3.2,3.97,4.42],[116.05,.1,.25,.45,.6,.75,.9,1.05,1.2,1.35,1.5,1.7,1.95,2.15,2.35,2.55,2.8,3.0,3.15],[116.1,.2,.4,.55,.7,.85,1,1.15,1.3,1.45,1.6,1.95,2.5,2.7,2.9,3],[116.15,.25,.4,.6,.75,.9,1.05,1.2,1.35,1.5],
[116.2,.1,.3,.45,.6,.75,.9,1.05,1.2,1.35,1.5,1.65,1.8,1.9,2.3,2.45,2.8],[116.25,.15,.35,.5,.65,.8,.95,1.1,1.25,1.4,1.55,1.7,1.85,2,2.15,2.3,2.45],[116.3,.1,.3,.45,.6,.75,.9,1.05,1.2,1.35,1.5,1.65,1.85,2.05,2.2,2.7,2.8],[116.35,.4,.55,.7,.85,1,1.15,1.3,1.45,1.55,2.05,3.38],[116.4,.3,.5,.65,.8,.95,1.1,1.25,1.45,1.55,1.85,4.2],[116.45,.1,.3,.55,.8,1,1.15,1.3,1.4,1.7,1.9],[116.5,.05,.1,.55,.7,.85,1,1.15,1.3,1.55,1.7,1.8,1.95],[116.55,.05,.1,.3,.55,1,1.15,1.3,1.4,1.6],[116.6,.05,.2,.35,.5,.65,.8,.95,1.1,1.3,1.5],[116.65,.05,.3,.45,.6,.75,.9,1.05,1.25,1.4,1.6,1.75,2.1,2.4,2.65,3.65],[116.7,.3,.45,.6,.75,.9,1.05,1.2,1.4,1.55,1.85,2.25,2.5,2.7,5.03],[116.72,3.9,4.58,3.75],[116.75,.35,.5,.65,.8,.95,1.1,1.25,1.5,1.9,2.05,2.25,2.5,3.3,3.5,3.7,3.9,4.2,5.02,5.15,5.3,5.45],[116.78,.4,.55,.7,.85,1,1.3,1.5,1.9,2.1,2.3,2.7,3.15,3.35,3.6,3.75,3.85,4.0,5.25,5.4,5.6],[116.82,.1,.5,.65,.8,1,1.25,1.45,1.65,1.95,2.2,2.45,2.95,3.3,3.55,3.8,3.95,4.05,4.62,5.25,5.35,5.45,5.7,5.6],[116.85,.3,.45,.6,.75,.9,1.15,1.35,1.55,1.75,2.25,2.55,3.3,5.4,5.6,5.92,6.08],[116.88,.25,.5,1.35,1.55,1.85,2.6,2.9,4.9,5.05],[116.92,.2,.4,.55,1.3,1.5,1.65,2.9,3.9,4.25,4.45,5,5.08],[116.96,.15,.35,.5,1.2,1.5,2.8,4.1,4.25,4.38,4.3,5.05],[117,.15,.35,.5,.72,1.65,2,2.25,2.55,2.75,3,3.85,3.45,4.22],[117.05,.15,.35,.5,1.05,1.3,1.55,1.75,2,2.2,2.35,2.7,3.25,3.4,3.55,3.7,3.98],[117.1,.1,.3,.45,.6,.85,1.05,1.4,2,2.2,2.65,3.3,3.45,3.6,3.98],[117.15,.1,.3,.45,.6,.85,1.1,1.95,2.15,2.35,2.7],[117.2,.15,.35,.5,.65,.85,1.85,2,2.15,3.4],[117.25,.05,.2,.4,.55,.7,.85,1.9,3.03,3.7,4.12],[117.3,.1,.3,.5,.7,.85,1.05,3.03,3.65],[117.35,.05,.25,.4,.55,.7,.85,1,1.15,1.35,1.5,1.75,1.95,2.15,2.35,3.1,3.7,4.5,5.97],[117.38,.15,.35,.5,.65,.8,.95,1.1,1.25,1.4,1.6,2.5,3.15,3.35,3.55,3.75,3.95,4.2,4.05,4.45,4.7],[117.42,.2,.4,.55,.7,.85,1,1.15,1.25,1.45,1.8,2.9,3.1,3.2],
[117.45,.1,.3,.5,.65,.8,.95,1.1,1.3,1.65],[117.5,.05,.25,.4,.55,.7,.85,1,1.15,1.4,2.08],[117.55,.15,.35,.5,.65,.8,.95,1.1,1.3],[117.6,.1,.3,.45,.6,.75,.9,1.05,1.2,1.5,1.7,1.85],[117.65,.1,.25,.45,.6,.75,.9,1.05,1.2,1.35,1.55,1.75,1.95,2.03],[117.7,.05,.2,.4,.55,.7,.85,1,1.15],[117.75,.15,.35,.5,.65,.8,.95,1.05],[117.8,.1,.3,.45,.6,.75,.9,1.2],[117.85,.1,.25,.4,.6,.75,.9,1.05,1.2,1.35,1.5,1.65,1.95,2.05,2.25,2.4,2.55],[117.9,.05,.25,.45,.6,.75,.9,1.05,1.2,1.35,1.5,1.7,1.85,2,2.25,2.45],[117.95,.1,.3,.5,.65,.8,.95,1.1,1.25,1.4,1.55,1.7,2.05,2.25,2.55,2.4],[118,.05,.2,.4,.55,.7,.85,1,1.15,1.3,1.45,1.7,1.85,2,2.2],[118.05,.1,.3,.45,.6,.75,.9,1.05,1.2,1.35,1.9,2.05,2.25,3.32],[118.1,.05,.25,.4,.55,.7,.85,1,1.15,1.3],[118.15,.1,.3,.5,.65,.8,.95,1.1,1.25,1.45,1.7],[118.2,.1,.25,.4,.6,.75,.9,1.05,1.2,1.4,1.65,2,2.34],[118.25,.05,.2,.35,.55,.7,.85,1,1.15,1.3,1.5],[118.3,.15,.3,.45,.6,.75,.9,1.05,1.2,1.5]];
const southHollowX=[115.73,115.87,115.87,116.12,116.12,116.37,116.31,116.89,116.89,116.87,116.97,117.16,117.15,117.3,117.14,117.39,117.5,117.68,118.22,116.68,116.88,115.85];
const southHollowY=[3.5,3.08,1.95,1.85,1.88,2.05,1.5,2.75,5.3,2.5,3.2,2.33,2.28,3.02,1.6,1.95,1.1,1.15,1.3,.95,2.05,1.3];
const southBlackY=[];
const southBands=[.72,1.25,1.7,2.1,3.0,4.15];

const panelTitles=["Bezan","Baka","BaBongo center","BaKoya","BaTwa","BaBongo south & east"];
const percentileNames=["0.1%","0.5%","1%","5%","10%","<50%",">50%"];
const percentileColors=["#e2122e","#b02a4b","#6f5f80","#4f6b87","#4c5f81","#48567a","#3f4669"];
const genePositionStart=[116.425,117.956,117.655,117.96,117.78,117.862];
const genePositionEnd=[116.827,117.967,117.783,118.19,117.87,117.893];
const geneTrack=[0,0,1.27,1.27,2.27,3.27];
const geneNames=["TRPS1","AARD","SLC30A8","EIF3H","UTP23","RAD21"];
const geneLabelSide=["left","right","left","top","left","left"];
const xTickValues=[115.5,116,116.5,117,117.5,118];
const yTickValues=[0,1,2,3,4,5,6];
const blackMarkerX=118.18;
const ancestryTicks=[20,30,40,50,60];
const ancestryX=[115.2,116.12,116.13,116.95,116.96,117.15,117.16,117.4,117.41,118.15,118.16,118.43];
const ancestryY=[40,40,42.3,42.3,41.5,41.5,40.9,40.9,40,40,38,38];
const ancestryAverage=38;
const ancestryUpper=50;
const ancestryLower=26.7;
const ancestryLabels=["average+2s.d","average","average-2s.d"];

const FONT="'Liberation Sans',Arial,sans-serif";
const panelData=[
 {cols:bezanCols,hx:bezanHollowX,hy:bezanHollowY,black:bezanBlackY,bands:bezanBands},
 {cols:bakaCols,hx:bakaHollowX,hy:bakaHollowY,black:bakaBlackY,bands:bakaBands},
 {cols:centerCols,hx:centerHollowX,hy:centerHollowY,black:centerBlackY,bands:centerBands},
 {cols:koyaCols,hx:koyaHollowX,hy:koyaHollowY,black:koyaBlackY,bands:koyaBands},
 {cols:twaCols,hx:twaHollowX,hy:twaHollowY,black:twaBlackY,bands:twaBands},
 {cols:southCols,hx:southHollowX,hy:southHollowY,black:southBlackY,bands:southBands}];
const frames=[
 {l:62,t:165.7,b:455.7,g:165.7,tx:230,ty:21},
 {l:532.5,t:165.7,b:455.7,g:165.7,tx:702,ty:21},
 {l:62,t:686.7,b:976.7,g:686.7,tx:230,ty:543},
 {l:532.5,t:686.7,b:976.7,g:686.7,tx:702,ty:543},
 {l:61,t:1204,b:1494,g:1204,tx:230,ty:1055},
 {l:533,t:1245.7,b:1493.3,g:1195.3,tx:684,ty:1049}];
const W=337, XMIN=115.087, XMAX=118.426, YMIN=-0.26, YMAX=6.75;
const opt={animation:false,textStyle:{fontFamily:FONT},title:[],grid:[],xAxis:[],yAxis:[],series:[],graphic:[],
 legend:{left:69,top:192,orient:'vertical',data:percentileNames.map(n=>({name:n,icon:'rect'})),itemWidth:10,itemHeight:10,itemGap:-0.3,padding:0,selectedMode:false,
  itemStyle:{borderColor:'#444',borderWidth:.8},textStyle:{fontSize:12,color:'#222',fontFamily:FONT,padding:[0,0,0,-3]}}};
const NICE=v=>v.toFixed(1);
function addAxes(f,o){
 const ix=opt.grid.length;
 opt.grid.push({left:f.l,width:W,top:o.top,height:o.height,show:o.frame,borderColor:o.borderColor||'#a9a9a9',borderWidth:1.5,backgroundColor:'transparent',z:o.z||2});
 return ix;
}
panelData.forEach((p,i)=>{
 const f=frames[i];
 opt.title.push({text:panelTitles[i],left:f.tx,top:f.ty,padding:0,textAlign:'center',textVerticalAlign:'middle',textStyle:{fontSize:24,fontWeight:'normal',color:'#000',fontFamily:FONT}});
 const gi=addAxes(f,{top:f.t,height:f.b-f.t,frame:true});
 opt.xAxis.push({gridIndex:gi,type:'value',min:XMIN,max:XMAX,splitLine:{show:false},axisLine:{show:false,onZero:false},
  axisTick:{show:true,length:5,lineStyle:{color:'#999',width:1.2},customValues:xTickValues},
  axisLabel:{fontSize:15,color:'#222',margin:8,formatter:NICE,customValues:xTickValues,fontFamily:FONT},
  name:'Genomic position (Mb)',nameLocation:'middle',nameGap:27,nameMoveOverlap:false,nameTextStyle:{fontSize:15,color:'#222',fontFamily:FONT}});
 opt.yAxis.push({gridIndex:gi,type:'value',min:YMIN,max:YMAX,splitLine:{show:false},axisLine:{show:false,onZero:false},
  axisTick:{show:true,length:5,lineStyle:{color:'#999',width:1.2},customValues:yTickValues},
  axisLabel:{fontSize:15,color:'#222',margin:10,rotate:90,customValues:yTickValues,fontFamily:FONT},
  name:'Fcs',nameLocation:'middle',nameGap:35,nameMoveOverlap:false,nameRotate:90,nameTextStyle:{fontSize:15,color:'#222',fontFamily:FONT}});
 const buckets=percentileNames.map(()=>[]);
 const bandOf=y=>{const k=p.bands.findIndex(t=>y<t);return k<0?0:6-k;};
 p.cols.forEach(r=>{for(let k=1;k<r.length;k++)buckets[bandOf(r[k])].push([r[0],r[k]]);});
 buckets.forEach((d,k)=>opt.series.push({type:'scatter',name:percentileNames[k],xAxisIndex:gi,yAxisIndex:gi,data:d,symbol:'circle',symbolSize:8,
   itemStyle:{color:percentileColors[k],opacity:1},silent:true,clip:false,z:3}));
 const hollow=percentileNames.map(()=>[]);
 p.hx.forEach((x,k)=>hollow[bandOf(p.hy[k])].push([x,p.hy[k]]));
 hollow.forEach((d,k)=>{if(d.length)opt.series.push({type:'scatter',xAxisIndex:gi,yAxisIndex:gi,data:d,symbol:'path://M0 0H10V10H0Z M0 0L10 10 M10 0L0 10',symbolSize:7,
   itemStyle:{color:'#fff',borderColor:percentileColors[k],borderWidth:.7,opacity:.7},silent:true,z:4});});
 if(p.black.length)opt.series.push({type:'scatter',xAxisIndex:gi,yAxisIndex:gi,data:p.black.map(y=>[blackMarkerX,y]),symbol:'rect',symbolSize:7,itemStyle:{color:'#000'},silent:true,z:5});
 const tg=f.g-130.5;
 const gg=addAxes(f,{top:tg,height:130.5,frame:false});
 opt.xAxis.push({gridIndex:gg,type:'value',min:XMIN,max:XMAX,show:false});
 opt.yAxis.push({gridIndex:gg,type:'value',min:-0.4,max:4.1,show:false});
 opt.series.push({type:'custom',xAxisIndex:gg,yAxisIndex:gg,silent:true,clip:false,z:3,
  encode:{x:[0,1],y:2},
  data:genePositionStart.map((s,k)=>[s,genePositionEnd[k],geneTrack[k],k]),
  renderItem:(ps,api)=>{
   const a=api.coord([api.value(0),api.value(2)]),b=api.coord([api.value(1),api.value(2)]);
   const k=api.value(3),h=15,side=geneLabelSide[k];
   let tx,ty=a[1]+1,al;
   if(side==='left'){tx=a[0]-4.5;al='right';}
   else if(side==='right'){tx=b[0]+4;al='left';}
   else{tx=(a[0]+b[0])/2;ty=a[1]-h/2-6;al='center';}
   return {type:'group',children:[
    {type:'rect',shape:{x:a[0],y:a[1]-h/2,width:b[0]-a[0],height:h},style:{fill:'#4d4f3f',stroke:k===1?'#777':null,lineWidth:.5}},
    {type:'text',style:{x:tx,y:ty,text:geneNames[k],fontSize:15.5,fontStyle:'italic',fontWeight:k===0?'bold':'normal',fontFamily:FONT,fill:'#111',textAlign:al,textVerticalAlign:'middle'}}]};
  }});
});
(function(){
 const f=frames[5];
 const gi=addAxes(f,{top:1195.3,height:50.4,frame:true,borderColor:'#8c8c8c'});
 opt.xAxis.push({gridIndex:gi,type:'value',min:XMIN,max:XMAX,show:false});
 opt.yAxis.push({gridIndex:gi,type:'value',min:15,max:61.2,splitLine:{show:false},axisLine:{show:false,onZero:false},
  axisTick:{show:true,length:5,lineStyle:{color:'#888',width:1},customValues:ancestryTicks},
  axisLabel:{fontSize:8,color:'#555',margin:6,rotate:90,hideOverlap:false,customValues:ancestryTicks,fontFamily:FONT},
  name:'Proportion of\nRHG ancestry (%)',nameLocation:'middle',nameGap:37,nameMoveOverlap:false,nameRotate:90,nameTextStyle:{fontSize:12,lineHeight:14,color:'#222',fontFamily:FONT}});
 const base={type:'line',xAxisIndex:gi,yAxisIndex:gi,symbol:'none',silent:true,z:3};
 opt.series.push(Object.assign({},base,{data:[[XMIN,ancestryUpper],[XMAX,ancestryUpper]],lineStyle:{color:'#bfe6ac',width:1,type:'dashed'}}));
 opt.series.push(Object.assign({},base,{data:[[XMIN,ancestryLower],[XMAX,ancestryLower]],lineStyle:{color:'#bfe6ac',width:1,type:'dashed'}}));
 opt.series.push(Object.assign({},base,{data:[[XMIN,ancestryAverage],[XMAX,ancestryAverage]],lineStyle:{color:'#d5f0c8',width:1.5}}));
 opt.series.push(Object.assign({},base,{data:ancestryX.map((x,k)=>[x,ancestryY[k]]),lineStyle:{color:'#a4dc8c',width:1.2}}));
 [1203,1216.5,1230].forEach((y,k)=>opt.graphic.push({type:'text',left:536,top:y-6,z:10,silent:true,style:{text:ancestryLabels[k],fontSize:10,fontFamily:FONT,fill:'#333'}}));
})();
opt.graphic.push({type:'text',left:68,top:173,z:10,silent:true,style:{text:'SNP Fcs percentile',fontSize:11,fontFamily:FONT,fill:'#333'}});
const chart=echarts.init(document.getElementById('c'),null,{renderer:'canvas',width:870,height:1538});
chart.setOption(opt);
</script></body></html>
